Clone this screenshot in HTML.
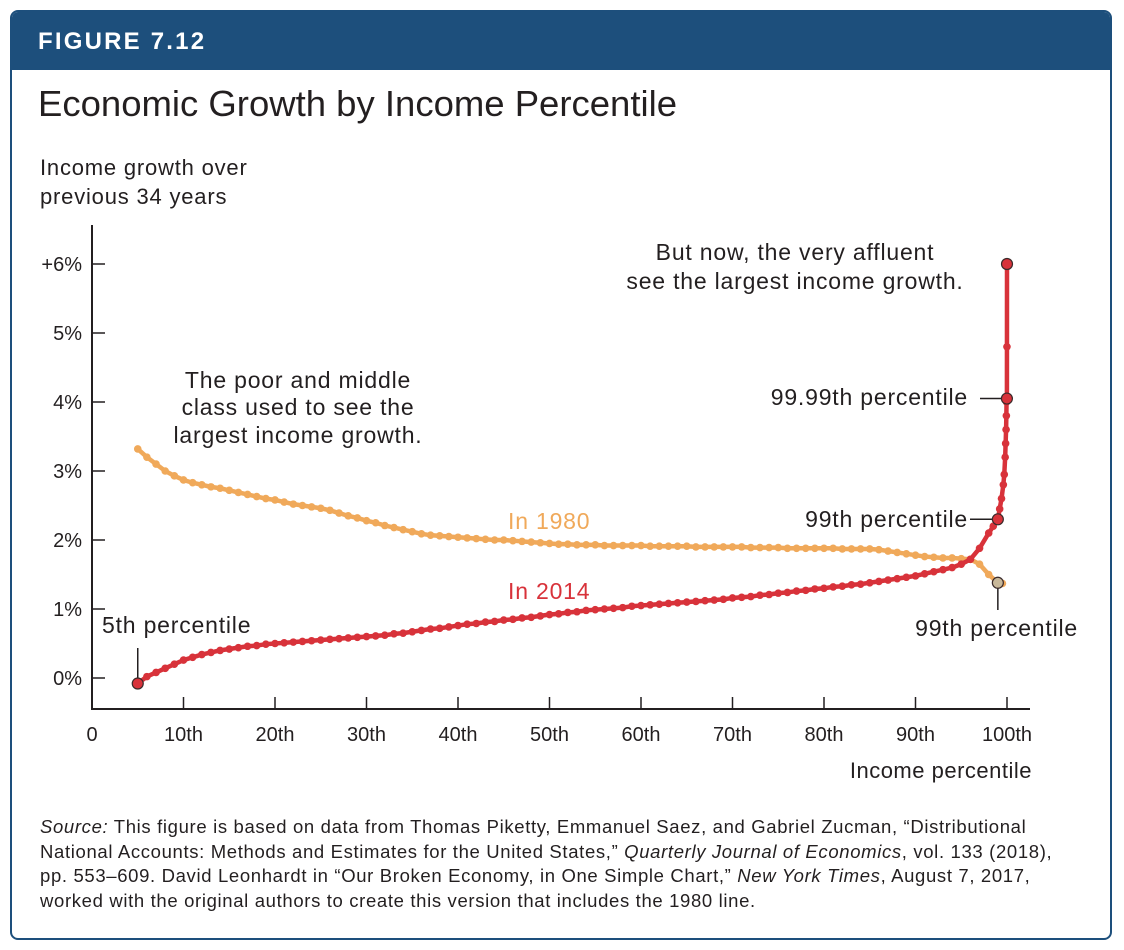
<!DOCTYPE html>
<html><head><meta charset="utf-8"><style>
body{margin:0;background:#fff;font-family:"Liberation Sans",Arial,sans-serif;}
#frame{position:absolute;left:10px;top:10px;width:1098px;height:926px;border:2px solid #1d4f7c;border-radius:8px;overflow:hidden;}
#hdr{position:absolute;left:0;top:0;width:100%;height:58px;background:#1d4f7c;}
#hdr span{position:absolute;left:26px;top:16px;color:#fff;font-weight:bold;font-size:24px;letter-spacing:2.2px;}
svg{position:absolute;left:0;top:0;}
text{font-family:"Liberation Sans",Arial,sans-serif;fill:#231f20;}
</style></head><body>
<div id="frame"><div id="hdr"><span>FIGURE 7.12</span></div></div>
<svg id="chart" width="1124" height="950">
<text x="38" y="116" font-size="36.5">Economic Growth by Income Percentile</text>
<text x="40" y="175" font-size="22" letter-spacing="0.8">Income growth over</text>
<text x="40" y="204" font-size="22" letter-spacing="0.8">previous 34 years</text>
<text x="1032" y="778" font-size="22" letter-spacing="0.5" text-anchor="end">Income percentile</text>
<g id="axes"></g><g id="series"></g>
<g font-size="23" letter-spacing="0.8">
<text x="298" y="388" text-anchor="middle">The poor and middle</text>
<text x="298" y="415" text-anchor="middle">class used to see the</text>
<text x="298" y="443" text-anchor="middle">largest income growth.</text>
<text x="795" y="260" text-anchor="middle">But now, the very affluent</text>
<text x="795" y="289" text-anchor="middle">see the largest income growth.</text>
<text x="968" y="405" text-anchor="end">99.99th percentile</text>
<text x="968" y="527" text-anchor="end">99th percentile</text>
<text x="1078" y="636" text-anchor="end">99th percentile</text>
<text x="102" y="633">5th percentile</text>
<text x="508" y="529" style="fill:#f0a95a">In 1980</text>
<text x="508" y="599" style="fill:#d8323a">In 2014</text>
</g>
</svg>
<script>
const pct = [5,6,7,8,9,10,11,12,13,14,15,16,17,18,19,20,21,22,23,24,25,26,27,28,29,30,31,32,33,34,35,36,37,38,39,40,41,42,43,44,45,46,47,48,49,50,51,52,53,54,55,56,57,58,59,60,61,62,63,64,65,66,67,68,69,70,71,72,73,74,75,76,77,78,79,80,81,82,83,84,85,86,87,88,89,90,91,92,93,94,95,96,97,98,99,99.5];
const g1980 = [3.32,3.2,3.1,3.0,2.93,2.87,2.83,2.8,2.77,2.75,2.72,2.69,2.66,2.63,2.6,2.58,2.55,2.52,2.5,2.48,2.46,2.43,2.39,2.35,2.32,2.28,2.25,2.21,2.18,2.15,2.12,2.09,2.07,2.06,2.05,2.04,2.03,2.02,2.01,2.0,2.0,1.99,1.98,1.97,1.96,1.95,1.94,1.94,1.93,1.93,1.93,1.92,1.92,1.92,1.92,1.92,1.91,1.91,1.91,1.91,1.91,1.9,1.9,1.9,1.9,1.9,1.9,1.89,1.89,1.89,1.89,1.88,1.88,1.88,1.88,1.88,1.88,1.87,1.87,1.87,1.87,1.86,1.84,1.82,1.8,1.78,1.76,1.75,1.74,1.74,1.73,1.72,1.65,1.5,1.38,1.37];
const pct2014 = [5,6,7,8,9,10,11,12,13,14,15,16,17,18,19,20,21,22,23,24,25,26,27,28,29,30,31,32,33,34,35,36,37,38,39,40,41,42,43,44,45,46,47,48,49,50,51,52,53,54,55,56,57,58,59,60,61,62,63,64,65,66,67,68,69,70,71,72,73,74,75,76,77,78,79,80,81,82,83,84,85,86,87,88,89,90,91,92,93,94,95,96,97,98,98.5,99,99.2,99.4,99.6,99.7,99.8,99.85,99.9,99.93,99.95,99.97,99.99,99.995,100];
const g2014 = [-0.08,0.02,0.08,0.14,0.2,0.26,0.3,0.34,0.37,0.4,0.42,0.44,0.46,0.47,0.49,0.5,0.51,0.52,0.53,0.54,0.55,0.56,0.57,0.58,0.59,0.6,0.61,0.62,0.64,0.65,0.67,0.69,0.71,0.72,0.74,0.76,0.78,0.79,0.81,0.82,0.84,0.85,0.87,0.88,0.9,0.92,0.93,0.95,0.96,0.98,0.99,1.0,1.01,1.02,1.04,1.05,1.06,1.07,1.08,1.09,1.1,1.11,1.12,1.13,1.14,1.16,1.17,1.18,1.2,1.21,1.23,1.24,1.26,1.27,1.29,1.3,1.32,1.33,1.35,1.36,1.38,1.4,1.42,1.44,1.46,1.48,1.51,1.54,1.57,1.6,1.65,1.72,1.88,2.1,2.2,2.3,2.45,2.6,2.8,2.95,3.2,3.4,3.6,3.8,4.0,4.05,4.05,4.8,6.0];
const yTicks = [0,1,2,3,4,5,6];
const yTickLabels = ["0%","1%","2%","3%","4%","5%","+6%"];
const xTicks = [0,10,20,30,40,50,60,70,80,90,100];
const xTickLabels = ["0","10th","20th","30th","40th","50th","60th","70th","80th","90th","100th"];

const X = p => 92 + p*9.15;
const Y = v => 678 - v*69;
const NS = "http://www.w3.org/2000/svg";
function mk(tag, attrs, parent){const e=document.createElementNS(NS,tag);for(const k in attrs)e.setAttribute(k,attrs[k]);parent.appendChild(e);return e;}
const axes = document.getElementById('axes'), series = document.getElementById('series');
const ax = mk('path',{d:'M92 225 V709 H1030',fill:'none',stroke:'#231f20','stroke-width':2},axes);


yTicks.forEach((v,i)=>{
  const t=mk('line',{x1:92,x2:105,y1:Y(v),y2:Y(v),stroke:'#231f20','stroke-width':1.5},axes);
  
  
  const l=mk('text',{x:82,y:Y(v)+7,'text-anchor':'end','font-size':20},axes);
  l.textContent=yTickLabels[i];
  
  
});
xTicks.forEach((p,i)=>{
  if(p>0){const t=mk('line',{x1:X(p),x2:X(p),y1:697,y2:709,stroke:'#231f20','stroke-width':1.5},axes);
  
  }
  const l=mk('text',{x:X(p),y:741,'text-anchor':'middle','font-size':20},axes);
  l.textContent=xTickLabels[i];
  
  
});
function drawSeries(xs, ys, color, name){
  const g=mk('g',{},series);
  
  
  mk('polyline',{points:xs.map((p,i)=>X(p)+','+Y(ys[i])).join(' '),fill:'none',stroke:color,'stroke-width':4.5},g);
  xs.forEach((p,i)=>{
    const c=mk('circle',{cx:X(p),cy:Y(ys[i]),r:3.8,fill:color},g);
    
    
  });
}
drawSeries(pct,g1980,'#f0a95a','series-1980');
drawSeries(pct2014,g2014,'#d8323a','series-2014');
function leader(x1,y1,x2,y2){const l=mk('line',{x1,y1,x2,y2,stroke:'#231f20','stroke-width':1.5},series);

}
function marker(p,v,fill,name){const c=mk('circle',{cx:X(p),cy:Y(v),r:5.5,fill:fill,stroke:'#3a2a2a','stroke-width':1.2},series);

}
const i5=0, i99=pct2014.indexOf(99), i9999=pct2014.indexOf(99.99), iTop=pct2014.length-1, j99=pct.indexOf(99);
leader(X(5),648,X(5),Y(g2014[i5]));
leader(980,Y(g2014[i9999]),X(99.99),Y(g2014[i9999]));
leader(970,Y(g2014[i99]),X(99),Y(g2014[i99]));
leader(X(99),Y(g1980[j99]),X(99),610);
marker(5,g2014[i5],'#d8323a','marker-5th');
marker(99.99,g2014[i9999],'#d8323a','marker-9999th');
marker(99,g2014[i99],'#d8323a','marker-99th-2014');
marker(100,g2014[iTop],'#d8323a','marker-top');
marker(99,g1980[j99],'#c8b89a','marker-99th-1980');
</script>
<div style="position:absolute;left:40px;top:815px;width:1070px;white-space:nowrap;font-size:18.5px;line-height:24.5px;color:#231f20;letter-spacing:0.65px"><i>Source:</i> This figure is based on data from Thomas Piketty, Emmanuel Saez, and Gabriel Zucman, “Distributional<br>National Accounts: Methods and Estimates for the United States,” <i>Quarterly Journal of Economics</i>, vol. 133 (2018),<br>pp. 553–609. David Leonhardt in “Our Broken Economy, in One Simple Chart,” <i>New York Times</i>, August 7, 2017,<br>worked with the original authors to create this version that includes the 1980 line.</div>
</body></html>
